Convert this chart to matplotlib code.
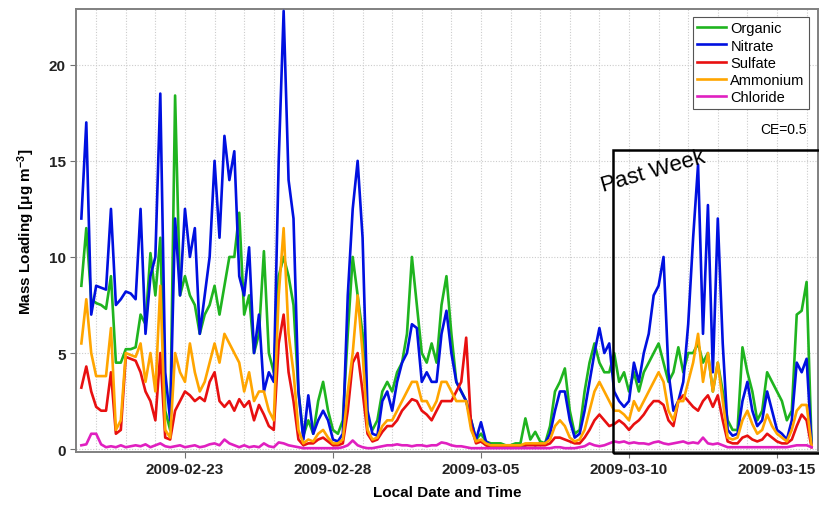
import matplotlib
matplotlib.use("Agg")
import numpy as np
import pandas as pd
import matplotlib.pyplot as plt
import matplotlib.dates as mdates
from matplotlib.patches import Rectangle

plt.rcParams["font.family"] = ["Liberation Sans", "DejaVu Sans"]
plt.rcParams["mathtext.fontset"] = "custom"
plt.rcParams["mathtext.bf"] = "Liberation Sans:bold"
plt.rcParams["mathtext.rm"] = "Liberation Sans:bold"
plt.rcParams["mathtext.default"] = "bf"

# 4-hourly samples, 2009-02-19 12:00 .. 2009-03-16 04:00 (one row per day)
times = pd.date_range("2009-02-19 12:00", "2009-03-16 04:00", freq="4h")

nitrate = [
    12, 17, 7,
    8.5, 8.4, 8.3, 12.5, 7.5, 7.8,        # 02-20
    8.2, 8.1, 7.8, 12.5, 6, 9,            # 02-21
    10, 18.5, 4, 1.5, 12, 8,              # 02-22
    12.5, 10, 11.5, 6, 8, 10,             # 02-23
    15, 11, 16.3, 14, 15.5, 9,            # 02-24
    8, 10.5, 5, 7, 3, 4,                  # 02-25
    3.5, 15, 22.8, 14, 12, 3,             # 02-26
    0.5, 2.8, 0.8, 1.5, 2, 1.5,           # 02-27
    0.5, 0.4, 0.8, 8, 12.5, 15,           # 02-28
    11, 2, 0.8, 0.7, 2.5, 3,              # 03-01
    2, 3.5, 4.5, 5, 6.5, 6.3,             # 03-02
    3.5, 4, 3.5, 3.5, 6, 7.2,             # 03-03
    5, 3.5, 3, 2.5, 1.5, 0.5,             # 03-04
    1.4, 0.4, 0.2, 0.2, 0.2, 0.2,         # 03-05
    0.2, 0.2, 0.2, 0.2, 0.3, 0.2,         # 03-06
    0.3, 0.3, 0.8, 2, 3, 3,               # 03-07
    1.5, 0.6, 0.8, 2, 3.5, 5,             # 03-08
    6.3, 5, 5.5, 3, 2.5, 2.2,             # 03-09
    2.5, 4.5, 3.5, 5, 6, 8,               # 03-10
    8.5, 10, 4, 2, 2.5, 3.5,              # 03-11
    6.5, 11, 14.8, 6, 12.7, 4,            # 03-12
    12, 5.5, 1, 0.7, 0.8, 2.5,            # 03-13
    3.5, 2, 1.2, 1.5, 3, 2,               # 03-14
    1, 0.8, 0.5, 1.5, 4.5, 4,             # 03-15
    4.7, 0.3,
]

organic = [
    8.5, 11.5, 7.8,
    7.6, 7.5, 7.3, 9.0, 4.5, 4.5,
    5.2, 5.2, 5.3, 7, 6.5, 10.2,
    8, 11, 2, 1, 18.4, 8,
    9, 8, 7.5, 6, 7, 7.5,
    8.5, 7, 8.5, 10, 10, 12.3,
    7, 8, 5, 6, 10.3, 5,
    4, 9, 10, 9, 7.5, 3,
    0.7, 1.5, 0.8, 2.5, 3.5, 2,
    1, 0.8, 1.5, 6, 10, 8,
    6, 1.5, 1, 1.5, 3, 3.5,
    3, 4, 4.5, 6, 10, 7.5,
    5, 4.5, 5.5, 4.5, 7.5, 9,
    6, 3.5, 3, 2.5, 1.5, 0.5,
    0.8, 0.4, 0.3, 0.3, 0.3, 0.2,
    0.2, 0.3, 0.3, 1.6, 0.5, 0.9,
    0.4, 0.3, 1.2, 3, 3.5, 4.2,
    2, 0.8, 1, 3, 4.5, 5.5,
    4.5, 4, 4, 5, 3.5, 4,
    3, 4, 3, 4, 4.5, 5,
    5.5, 4.5, 3.5, 4, 5.3, 4,
    5, 5, 5.5, 4.5, 5, 3,
    4.5, 3, 1.5, 1, 1, 5.3,
    4, 3, 1.5, 2, 4, 3.5,
    3, 2.5, 1.5, 2, 7, 7.2,
    8.7, 0.3,
]

ammonium = [
    5.5, 7.8, 5,
    3.8, 3.8, 3.8, 6.3, 1, 1.5,
    5, 4.9, 4.8, 5.5, 3.5, 5,
    3, 8.5, 1, 0.6, 5, 4,
    3.5, 5.5, 4, 3, 3.5, 4.5,
    5.5, 4.5, 6, 5.5, 5, 4.5,
    3, 4, 2.5, 3, 3, 2,
    1.5, 8, 11.5, 6, 4, 1,
    0.3, 0.5, 0.4, 0.8, 1, 0.6,
    0.3, 0.3, 0.5, 3, 5, 8,
    5, 1, 0.5, 0.6, 1.2, 1.5,
    1.5, 2, 2.5, 3, 3.5, 3.5,
    2.5, 2.5, 2, 2.5, 3.5, 3.5,
    3, 2.5, 2.5, 2.5, 1, 0.4,
    0.5, 0.3, 0.2, 0.2, 0.2, 0.2,
    0.2, 0.2, 0.2, 0.3, 0.3, 0.3,
    0.3, 0.3, 0.5, 1.2, 1.5, 1.2,
    0.6, 0.4, 0.5, 1, 2, 3,
    3.5, 3, 2.5, 2, 2, 1.8,
    1.5, 2.5, 2, 2.5, 3, 3.5,
    4, 3.5, 2, 1.5, 2.5, 2.5,
    3.5, 4.5, 6, 3.5, 5, 3,
    4.5, 2.5, 0.6, 0.5, 0.6, 1.5,
    2, 1.3, 0.8, 1, 1.8, 1.2,
    0.8, 0.6, 0.4, 1, 2, 2.3,
    2.3, 0.2,
]

sulfate = [
    3.2, 4.3, 3,
    2.2, 2, 2, 4, 0.8, 1,
    4.8, 4.7, 4.6, 4, 3, 2.5,
    1.5, 5, 0.6, 0.5, 2, 2.5,
    3, 2.8, 2.5, 2.7, 2.5, 3.5,
    4, 2.5, 2.2, 2.5, 2, 2.6,
    2.2, 2.5, 1.5, 2.3, 1.8, 1.2,
    1, 5.5, 7, 4, 2.5, 0.5,
    0.2, 0.3, 0.3, 0.5, 0.6, 0.4,
    0.2, 0.2, 0.3, 2, 4.5, 5,
    3, 0.8, 0.4, 0.5, 0.9, 1.2,
    1.2, 1.5, 2, 2.3, 2.6, 2.5,
    2, 1.8, 1.5, 2, 2.5, 2.5,
    2.5, 3, 3.5, 5.8, 1.2, 0.3,
    0.4, 0.2, 0.1, 0.1, 0.1, 0.1,
    0.1, 0.1, 0.2, 0.2, 0.2, 0.2,
    0.2, 0.2, 0.3, 0.6, 0.6, 0.5,
    0.4, 0.3, 0.3, 0.6, 1, 1.5,
    1.8, 1.5, 1.2, 1.3, 1.5, 1.3,
    1.0, 1.3, 1.5, 1.8, 2.2, 2.5,
    2.5, 2.3, 1.5, 1.2, 2.5, 2.8,
    2.5, 2.2, 2, 2.5, 2.8, 2.2,
    2.8, 1.5, 0.4, 0.3, 0.3, 0.6,
    0.7, 0.5, 0.4, 0.5, 0.8, 0.6,
    0.4, 0.3, 0.3, 0.5, 1.2, 1.8,
    1.5, 0.1,
]

chloride = [
    0.2, 0.25, 0.8,
    0.8, 0.25, 0.1, 0.15, 0.1, 0.2,
    0.1, 0.15, 0.2, 0.15, 0.25, 0.1,
    0.2, 0.3, 0.15, 0.1, 0.15, 0.2,
    0.1, 0.15, 0.2, 0.1, 0.15, 0.25,
    0.3, 0.2, 0.5, 0.3, 0.2, 0.1,
    0.2, 0.1, 0.15, 0.1, 0.3, 0.15,
    0.1, 0.35, 0.3, 0.2, 0.15, 0.1,
    0.05, 0.05, 0.05, 0.05, 0.05, 0.05,
    0.05, 0.05, 0.1, 0.2, 0.45, 0.2,
    0.1, 0.05, 0.05, 0.1, 0.15, 0.2,
    0.2, 0.25, 0.2, 0.2, 0.15, 0.2,
    0.2, 0.15, 0.2, 0.2, 0.35, 0.3,
    0.2, 0.15, 0.15, 0.1, 0.05, 0.05,
    0.05, 0.05, 0.05, 0.05, 0.05, 0.05,
    0.05, 0.05, 0.05, 0.05, 0.05, 0.05,
    0.05, 0.05, 0.05, 0.1, 0.1, 0.05,
    0.05, 0.05, 0.1, 0.15, 0.3, 0.2,
    0.15, 0.2, 0.3, 0.4, 0.35, 0.4,
    0.3, 0.35, 0.3, 0.3, 0.25, 0.35,
    0.4, 0.3, 0.25, 0.3, 0.35, 0.4,
    0.3, 0.35, 0.3, 0.6, 0.3, 0.25,
    0.3, 0.2, 0.1, 0.1, 0.1, 0.1,
    0.1, 0.1, 0.1, 0.1, 0.1, 0.1,
    0.1, 0.1, 0.1, 0.15, 0.2, 0.2,
    0.2, 0.1,
]

series = [
    ("Organic", organic, "#1fb41f"),
    ("Nitrate", nitrate, "#0010e0"),
    ("Sulfate", sulfate, "#e81010"),
    ("Ammonium", ammonium, "#ffa500"),
    ("Chloride", chloride, "#e020c0"),
]

fig = plt.figure(figsize=(8.2, 5.06), dpi=100)
ax = fig.add_axes([0.0927, 0.1047, 0.905, 0.8755])

handles = {}
for name, vals, col in series:
    (ln,) = ax.plot(times, vals, color=col, lw=1.9, label=name, zorder=3)
    handles[name] = ln

ax.set_xlim(pd.Timestamp("2009-02-19 07:40"), pd.Timestamp("2009-03-16 09:20"))
ax.set_ylim(-0.15, 22.9)

ax.xaxis.set_major_locator(mdates.DayLocator(bymonthday=[5, 10, 15, 23, 28]))
ax.xaxis.set_major_formatter(mdates.DateFormatter("%Y-%m-%d"))
ax.xaxis.set_minor_locator(mdates.DayLocator())
ax.set_yticks([0, 5, 10, 15, 20])

ax.grid(which="both", axis="x", color="#cccccc", ls=(0, (1, 1.5)), lw=0.8)
ax.grid(which="major", axis="y", color="#cccccc", ls=(0, (1, 1.5)), lw=0.8)
ax.set_axisbelow(True)
ax.tick_params(which="minor", length=0)
ax.tick_params(which="major", length=4, color="#707070", labelsize=11)
for lab in ax.get_xticklabels() + ax.get_yticklabels():
    lab.set_fontweight("bold")
    lab.set_color("#222222")
for sp in ax.spines.values():
    sp.set_color("#808080")
    sp.set_linewidth(1.4)

ax.set_xlabel("Local Date and Time", fontsize=11, fontweight="bold", labelpad=6)
ax.set_ylabel(r"Mass Loading [$\mu$g m$^{-3}$]", fontsize=11, fontweight="bold", labelpad=8)

leg = ax.legend(handles=[handles[n] for n, _, _ in series], loc="upper right",
                bbox_to_anchor=(0.988, 0.982), fontsize=10.5, fancybox=False,
                framealpha=1, edgecolor="#555555", handlelength=2.0,
                handletextpad=0.3, labelspacing=0.22, borderpad=0.3,
                borderaxespad=0)
leg.get_frame().set_linewidth(0.8)

ax.text(0.985, 0.73, "CE=0.5", transform=ax.transAxes, ha="right", va="center",
        fontsize=10)

# "Past Week" box
ax.add_patch(Rectangle((0.7237, -0.002), 0.28, 0.6837, transform=ax.transAxes,
                       fill=False, ec="black", lw=1.8, clip_on=False, zorder=5))
ax.text(0.777, 0.635, "Past Week", transform=ax.transAxes, rotation=16,
        ha="center", va="center", fontsize=16, zorder=6)

fig.savefig("out.png", dpi=100)
